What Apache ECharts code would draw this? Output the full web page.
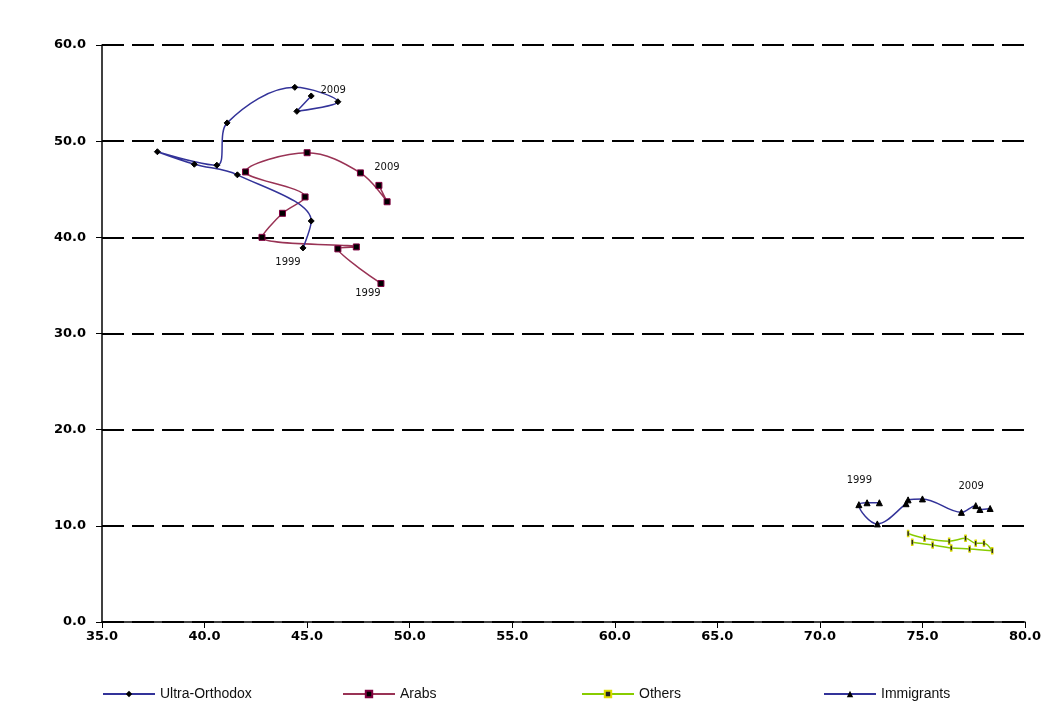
<!DOCTYPE html>
<html>
<head>
<meta charset="utf-8">
<script src="https://cdn.jsdelivr.net/npm/echarts@6/dist/echarts.min.js"></script>
<style>
html,body{margin:0;padding:0;background:#fff;}
#chart{width:1052px;height:727px;}
</style>
</head>
<body>
<div id="chart"></div>
<script>
var years = ['1999','2000','2001','2002','2003','2004','2005','2006','2007','2008','2009'];

var ultraX = [44.8, 45.2, 41.6, 39.5, 37.7, 40.6, 41.1, 44.4, 46.5, 44.5, 45.2];
var ultraY = [38.9, 41.7, 46.5, 47.6, 48.9, 47.5, 51.9, 55.6, 54.1, 53.1, 54.7];

var arabsX = [48.6, 46.5, 47.4, 42.8, 43.8, 44.9, 42.0, 45.0, 47.6, 48.9, 48.5];
var arabsY = [35.2, 38.8, 39.0, 40.0, 42.5, 44.2, 46.8, 48.8, 46.7, 43.7, 45.4];

var othersX = [74.3, 75.1, 76.3, 77.1, 77.6, 78.0, 78.4, 77.3, 76.4, 75.5, 74.5];
var othersY = [9.2, 8.7, 8.4, 8.7, 8.2, 8.2, 7.4, 7.6, 7.7, 8.0, 8.3];

var immX = [72.9, 72.3, 71.9, 72.8, 74.2, 74.3, 75.0, 76.9, 77.6, 77.8, 78.3];
var immY = [12.4, 12.4, 12.2, 10.2, 12.3, 12.7, 12.8, 11.4, 12.1, 11.7, 11.8];

var xTicks = [35, 40, 45, 50, 55, 60, 65, 70, 75, 80];
var yTicks = [0, 10, 20, 30, 40, 50, 60];

var seriesNames = ['Ultra-Orthodox', 'Arabs', 'Others', 'Immigrants'];

function pts(xs, ys, labels) {
  return xs.map(function (x, i) {
    var item = { value: [x, ys[i]], name: years[i] };
    if (labels && labels[i]) {
      item.label = {
        show: true,
        position: 'inside',
        offset: labels[i],
        formatter: years[i],
        color: '#111',
        fontFamily: 'DejaVu Sans',
        fontSize: 10
      };
    }
    return item;
  });
}

var labelFont = { color: '#000', fontFamily: 'DejaVu Sans', fontWeight: 'bold', fontSize: 13 };

var chart = echarts.init(document.getElementById('chart'), null, { renderer: 'canvas' });

var option = {
  animation: false,
  backgroundColor: '#fff',
  grid: { left: 102, right: 27, top: 45, bottom: 105, containLabel: false },
  xAxis: {
    type: 'value',
    min: xTicks[0], max: xTicks[xTicks.length - 1], interval: 5,
    axisLine: { show: true, onZero: false, lineStyle: { color: '#000', width: 1.5 } },
    axisTick: { show: true, inside: false, length: 6, lineStyle: { color: '#000' } },
    splitLine: { show: false },
    axisLabel: Object.assign({ margin: 8, formatter: function (v) { return v.toFixed(1); } }, labelFont)
  },
  yAxis: {
    type: 'value',
    min: yTicks[0], max: yTicks[yTicks.length - 1], interval: 10,
    axisLine: { show: true, onZero: false, lineStyle: { color: '#000', width: 1.5 } },
    axisTick: { show: true, inside: false, length: 6, lineStyle: { color: '#000' } },
    splitLine: { show: true, lineStyle: { color: '#000', width: 2, type: [22, 8] } },
    axisLabel: Object.assign({ margin: 16, formatter: function (v) { return v.toFixed(1); } }, labelFont)
  },
  legend: [
    { data: ['Ultra-Orthodox'], left: 97, top: 682 },
    { data: ['Arabs'], left: 337, top: 682 },
    { data: ['Others'], left: 576, top: 682 },
    { data: ['Immigrants'], left: 818, top: 682 }
  ].map(function (l) {
    return Object.assign({
      itemWidth: 52, itemHeight: 8, itemGap: 4,
      textStyle: { color: '#111', fontFamily: 'Liberation Sans', fontSize: 14 }
    }, l);
  }),
  series: [
    {
      name: seriesNames[0], type: 'line', smooth: 0.35,
      data: pts(ultraX, ultraY, { 0: [-15, 14], 10: [22, -6] }),
      symbol: 'diamond', symbolSize: 6,
      lineStyle: { color: '#333399', width: 1.5 },
      itemStyle: { color: '#000', borderColor: '#000' },
      z: 3
    },
    {
      name: seriesNames[1], type: 'line', smooth: 0.35,
      data: pts(arabsX, arabsY, { 0: [-13, 10], 10: [8, -18] }),
      symbol: 'rect', symbolSize: 6,
      lineStyle: { color: '#993355', width: 1.5 },
      itemStyle: { color: '#000', borderColor: '#800040', borderWidth: 1 },
      z: 2
    },
    {
      name: seriesNames[2], type: 'line', smooth: 0.35,
      data: pts(othersX, othersY),
      symbol: 'path://M0,0 L1,0 L1,6 L0,6 Z', symbolSize: [2, 6],
      lineStyle: { color: '#88CC00', width: 1.5 },
      itemStyle: { color: '#222', borderColor: '#dddd00', borderWidth: 0.5 },
      z: 2
    },
    {
      name: seriesNames[3], type: 'line', smooth: 0.35,
      data: pts(immX, immY, { 0: [-20, -22], 10: [-19, -22] }),
      symbol: 'triangle', symbolSize: 6,
      lineStyle: { color: '#333399', width: 1.5 },
      itemStyle: { color: '#000', borderColor: '#000' },
      z: 3
    }
  ]
};

chart.setOption(option);
</script>
</body>
</html>
